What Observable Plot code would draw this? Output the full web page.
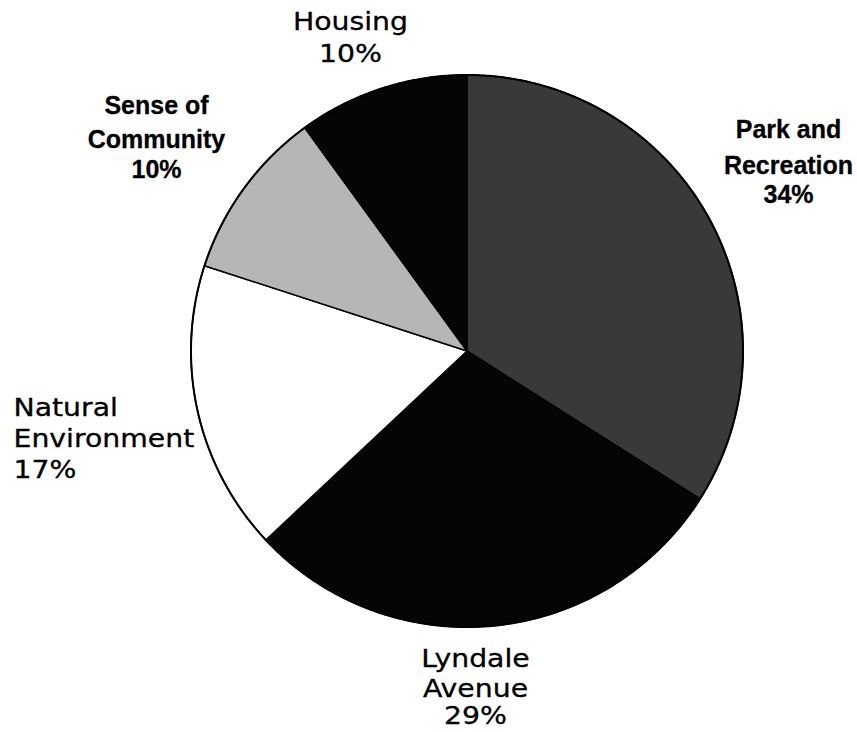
<!DOCTYPE html>
<html>
<head>
<meta charset="utf-8">
<script src="https://cdn.jsdelivr.net/npm/d3@7"></script>
<script src="https://cdn.jsdelivr.net/npm/@observablehq/plot@0.6"></script>
<style>
  html, body { margin: 0; padding: 0; background: #fff; }
  #chart svg { display: block; }
</style>
</head>
<body>
<div id="chart"></div>
<script>
// ---- data ----
const categories = ["Park and Recreation", "Lyndale Avenue", "Natural Environment", "Sense of Community", "Housing"];
const percents = [34, 29, 17, 10, 10];
const labelLines = [
  ["Park and", "Recreation", "34%"],
  ["Lyndale", "Avenue", "29%"],
  ["Natural", "Environment", "17%"],
  ["Sense of", "Community", "10%"],
  ["Housing", "10%"]
];
const sliceColors = ["#393939", "#050505", "#ffffff", "#b6b6b6", "#050505"];

// ---- label layout (pixel positions of each label line centre) ----
const labelLayout = [
  { anchor: "middle", x: 788, ys: [129, 165, 194], bold: true },
  { anchor: "middle", x: 475, ys: [659, 688.5, 716], bold: false },
  { anchor: "start",  x: 13,  ys: [407.5, 439, 470], bold: false },
  { anchor: "middle", x: 156, ys: [105, 139, 169], bold: true },
  { anchor: "middle", x: 350, ys: [21.5, 53.5], bold: false }
];

const W = 857, H = 732;
const cx = 466.5, cy = 350.5, R = 276;
const toX = px => (px - cx) / R;
const toY = py => (cy - py) / R;

// ---- slice polygons from pie angles ----
const arcs = d3.pie().sort(null).value(d => d)(percents);
const sliceMarks = arcs.map((a, i) => {
  const pts = [{ x: 0, y: 0 }];
  const n = Math.max(2, Math.ceil((a.endAngle - a.startAngle) / (Math.PI / 360)));
  for (let k = 0; k <= n; k++) {
    const t = a.startAngle + (a.endAngle - a.startAngle) * k / n;
    pts.push({ x: Math.sin(t), y: Math.cos(t) });
  }
  return Plot.line(pts, {
    x: "x", y: "y", curve: "linear-closed",
    fill: sliceColors[i], stroke: "#000", strokeWidth: 1.5, strokeLinejoin: "round",
    title: () => `${categories[i]}: ${percents[i]}%`
  });
});

const circle = d3.range(0, 721).map(k => ({ x: Math.sin(k * Math.PI / 360), y: Math.cos(k * Math.PI / 360) }));

const regularRows = [], boldRows = [];
labelLines.forEach((lines, i) => {
  const L = labelLayout[i];
  lines.forEach((t, j) => {
    const row = { text: t, x: toX(L.x), y: toY(L.ys[j]), anchor: L.anchor };
    (L.bold ? boldRows : regularRows).push(row);
  });
});

const textMarks = (rows, opts) => ["middle", "start"].map(anc =>
  Plot.text(rows.filter(r => r.anchor === anc), {
    x: "x", y: "y", text: "text", textAnchor: anc, lineAnchor: "middle",
    fill: "#000", ...opts
  })
);

const chart = Plot.plot({
  width: W, height: H,
  marginLeft: cx - R, marginRight: W - (cx + R),
  marginTop: cy - R, marginBottom: H - (cy + R),
  x: { domain: [-1, 1], axis: null },
  y: { domain: [-1, 1], axis: null },
  style: { background: "#fff" },
  marks: [
    ...sliceMarks,
    Plot.line(circle, { x: "x", y: "y", stroke: "#000", strokeWidth: 2 }),
    ...textMarks(regularRows, { fontSize: 24, fontFamily: "DejaVu Sans", stroke: "#000", strokeWidth: 0.3 }),
    ...textMarks(boldRows, { fontSize: 25, fontFamily: "Liberation Sans", fontWeight: "bold", stroke: "#000", strokeWidth: 0.3 })
  ]
});
// widen the regular (Verdana-like) labels horizontally about their anchor
chart.querySelectorAll('g[font-family="DejaVu Sans"] text').forEach(t => {
  const tr = t.getAttribute("transform") || "";
  t.setAttribute("transform", tr + " scale(1.18,1)");
});
document.getElementById("chart").appendChild(chart);
</script>
</body>
</html>
